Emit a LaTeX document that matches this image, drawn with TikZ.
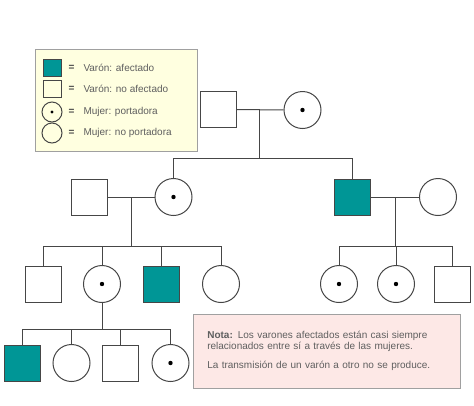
\documentclass[tikz,border=0pt]{standalone}
\usepackage{fontspec}
\setmainfont{Liberation Sans}
\definecolor{teal}{RGB}{0,150,150}
\definecolor{linea}{RGB}{70,70,70}
\definecolor{texto}{RGB}{95,95,95}
\definecolor{crema}{RGB}{255,255,224}
\definecolor{rosa}{RGB}{253,232,230}
\definecolor{borde}{RGB}{160,160,160}
\begin{document}
\begin{tikzpicture}[x=1pt, y=-1pt, line width=1pt, draw=linea,
	male/.style = {draw=linea, rectangle, minimum size=36pt, inner sep=0pt},
	female/.style = {draw=linea, circle, minimum size=37pt, inner sep=0pt},
	affected/.style = {male, fill=teal},
	carrier/.style = {female, path picture={\fill[black] (path picture bounding box.center) circle (2.2pt);}},
	small/.style = {minimum size=18pt},
	legtext/.style = {anchor=west, inner sep=0pt, text=texto, font=\fontsize{10}{12}\selectfont}]
	\useasboundingbox (0,0) rectangle (474,405);
	\node[draw=borde, fill=crema, anchor=north west, minimum width=162pt, minimum height=102pt, line width=0.6pt] (leyenda) at (35,49) {};
	\node[affected, small, minimum height=17pt] (l1) at (52,67.5) {};
	\node[male, small, minimum height=17pt] (l2) at (52,89) {};
	\node[carrier, small, minimum size=20pt, path picture={\fill[black] (path picture bounding box.center) circle (1.6pt);}] (l3) at (52,112) {};
	\node[female, small, minimum size=20pt] (l4) at (52,133) {};
	\node[legtext, text=linea] (e1) at (68,67.5) {\textbf{=}};
	\node[legtext, text=linea] (e2) at (68,89) {\textbf{=}};
	\node[legtext, text=linea] (e3) at (68,112) {\textbf{=}};
	\node[legtext, text=linea] (e4) at (68,133) {\textbf{=}};
	\node[legtext] (t1) at (83,67.5) {Varón: afectado};
	\node[legtext] (t2) at (83,89) {Varón: no afectado};
	\node[legtext] (t3) at (83,112) {Mujer: portadora};
	\node[legtext] (t4) at (83,133) {Mujer: no portadora};
	\node[male] (10) at (218.5,109.5) {};
	\node[carrier] (11) at (302.5,110) {};
	\coordinate (m1) at (259,109.5);
	\coordinate (s1) at (259,158);
	\draw (10) -- (11);
	\draw (m1) -- (s1);
	\node[male] (20) at (89,197) {};
	\node[carrier] (21) at (173.5,197) {};
	\node[affected] (22) at (352.5,197) {};
	\node[female] (23) at (438,197) {};
	\draw (s1) -| (21);
	\draw (s1) -| (22);
	\draw (20) -- (21);
	\draw (22) -- (23);
	\coordinate (m2) at (131,197);
	\coordinate (s2) at (131,246);
	\coordinate (m3) at (395,197);
	\coordinate (s3) at (395,246);
	\draw (m2) -- (s2);
	\draw (m3) -- (s3);
	\node[male] (30) at (43,284) {};
	\node[carrier] (31) at (102,284) {};
	\node[affected] (32) at (161,284) {};
	\node[female] (33) at (221,284) {};
	\node[carrier] (34) at (339,284) {};
	\node[carrier] (35) at (396,284) {};
	\node[male] (36) at (452,284) {};
	\draw (s2) -| (30);
	\draw (s2) -| (31);
	\draw (s2) -| (32);
	\draw (s2) -| (33);
	\draw (s3) -| (34);
	\draw (s3) -| (35);
	\draw (s3) -| (36);
	\coordinate (s4) at (102,329);
	\draw (31) -- (s4);
	\node[affected] (40) at (22,363) {};
	\node[female] (41) at (71.5,363) {};
	\node[male] (42) at (120.5,363) {};
	\node[carrier] (43) at (170.5,363) {};
	\draw (s4) -| (40);
	\draw (s4) -| (41);
	\draw (s4) -| (42);
	\draw (s4) -| (43);
	\node[draw=borde, fill=rosa, anchor=north west, minimum width=267pt, minimum height=74pt, inner xsep=14pt, text width=239pt, align=left, text=texto, line width=0.6pt, font=\fontsize{10}{10.5}\selectfont] (nota) at (193,314) {\textbf{Nota:} Los varones afectados están casi siempre\\relacionados entre sí a través de las mujeres.\\[9pt]La transmisión de un varón a otro no se produce.};
\end{tikzpicture}
\end{document}
